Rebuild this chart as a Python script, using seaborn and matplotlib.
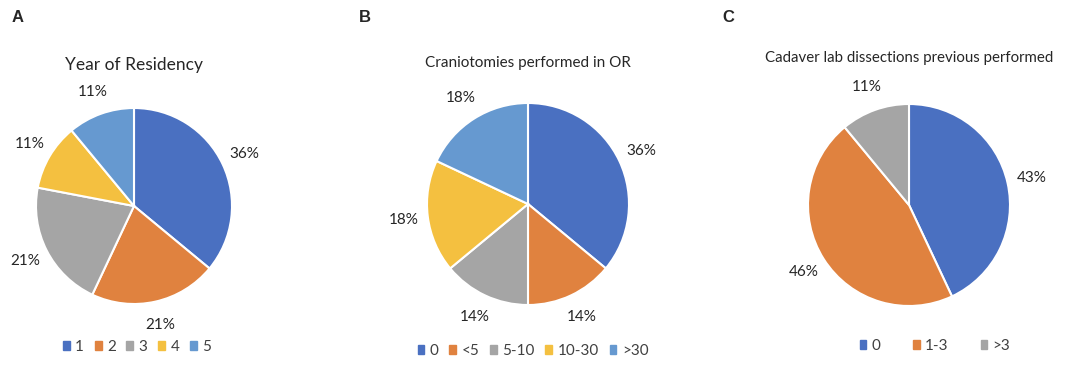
import matplotlib
matplotlib.use("Agg")
import matplotlib.pyplot as plt
import matplotlib.patches as mpatches
import seaborn as sns

# data (percent of respondents)
year_labels = ["1", "2", "3", "4", "5"]
year_values = [36, 21, 21, 11, 11]

crani_labels = ["0", "<5", "5-10", "10-30", ">30"]
crani_values = [36, 14, 14, 18, 18]

cadaver_labels = ["0", "1-3", ">3"]
cadaver_values = [43, 46, 11]

sns.set_style("white")
plt.rcParams['font.family'] = ['Lato', 'DejaVu Sans']

colors = sns.color_palette(["#4A70C1", "#E0823F", "#A5A5A5", "#F4C040", "#6699D0"])
text_col = "#262626"

W, H = 1084, 370
fig = plt.figure(figsize=(W / 100, H / 100), dpi=100)


def add_pie(cx, cy, r, values, labels, title, title_y, title_size, leg_x, leg_y, leg_gap, letter, letter_x):
    ax = fig.add_axes([(cx - r) / W, (H - cy - r) / H, 2 * r / W, 2 * r / H])
    ax.pie(values, colors=colors[:len(values)], startangle=90, counterclock=False,
           autopct=lambda p: f"{p:.0f}%", pctdistance=1.24,
           wedgeprops=dict(edgecolor="white", linewidth=1.5),
           textprops=dict(fontsize=11, color=text_col))
    ax.set_xlim(-1, 1)
    ax.set_ylim(-1, 1)
    ax.set_aspect("equal")
    ax.axis("off")
    fig.text(cx / W, 1 - title_y / H, title, ha="center", va="center",
             fontsize=title_size, color=text_col)
    handles = [mpatches.Patch(color=c) for c in colors[:len(values)]]
    fig.legend(handles, labels, loc="center", bbox_to_anchor=(leg_x / W, 1 - leg_y / H),
               ncol=len(values), frameon=False, fontsize=11, handlelength=0.45,
               handleheight=0.45, handletextpad=0.35, columnspacing=leg_gap,
               labelcolor="#404040")
    fig.text(letter_x / W, 1 - 18 / H, letter, ha="left", va="center",
             fontsize=12, fontweight="bold", family="Liberation Sans")


add_pie(134, 206, 98, year_values, year_labels, "Year of Residency", 65, 12.5,
        137, 347, 0.7, "A", 12)
add_pie(528, 204, 101, crani_values, crani_labels, "Craniotomies performed in OR", 63, 11,
        533, 351, 0.7, "B", 359)
add_pie(909, 205, 101, cadaver_values, cadaver_labels,
        "Cadaver lab dissections previous performed", 58, 10.8,
        935, 346, 2.1, "C", 722)

fig.savefig("out.png", dpi=100, facecolor="white")
